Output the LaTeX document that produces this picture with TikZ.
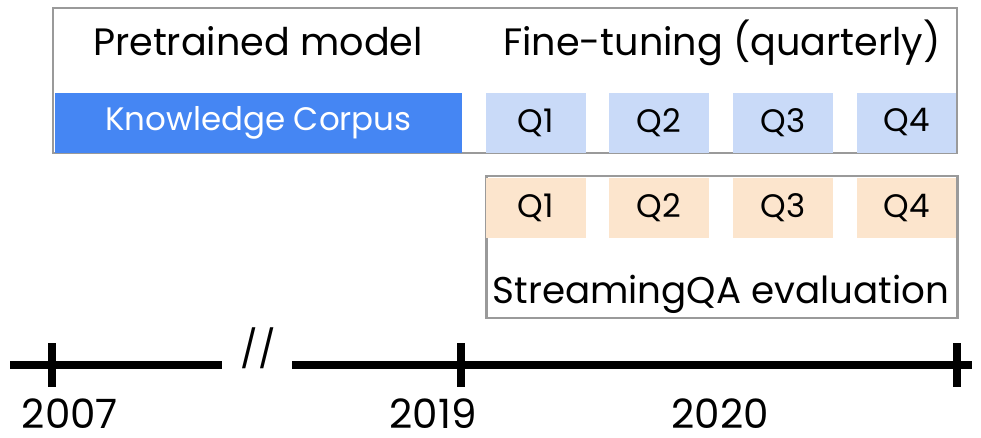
\documentclass[tikz,border=0pt]{standalone}
\usepackage{fontspec}
\setmainfont{Poppins}
\usetikzlibrary{positioning}
\definecolor{corpusblue}{HTML}{4586F3}
\definecolor{tuneblue}{HTML}{C9DAF8}
\definecolor{evalorange}{HTML}{FCE5CD}
\definecolor{framegray}{HTML}{9A9A9A}

\tikzset{
  frame/.style={draw=framegray, line width=1.2pt, inner sep=0pt},
  qbox/.style={minimum width=2cm, minimum height=1.2cm, inner sep=0pt, font=\fontsize{18.5}{22}\selectfont},
  tune/.style={qbox, fill=tuneblue},
  evalq/.style={qbox, fill=evalorange},
  heading/.style={font=\fontsize{21.7}{26}\selectfont, anchor=base},
  year/.style={font=\fontsize{23}{27}\selectfont, anchor=base, inner sep=0pt},
  axis/.style={line width=4pt}
}

\begin{document}
\begin{tikzpicture}[x=0.02cm, y=-0.02cm]
  \useasboundingbox (0,0) rectangle (981,437);
  % frames
  \node[frame, minimum width=18.08cm, minimum height=2.9cm] (topframe) at (505,80.5) {};
  \node[frame, minimum width=9.42cm, minimum height=2.84cm] (evalframe) at (722,247) {};
  % top row
  \node[heading] (pretrain) at (258,55) {Pretrained model};
  \node[heading] (finetune) at (722,55) {Fine-tuning (quarterly)};
  \node[qbox, fill=corpusblue, text=white, minimum width=8.14cm] (corpus) at (258.5,122.5) {Knowledge Corpus};
  \node[tune] (tq1) at (536,122.5) {Q1};
  \node[tune] (tq2) at (659,122.5) {Q2};
  \node[tune] (tq3) at (783,122.5) {Q3};
  \node[tune] (tq4) at (906.5,122.5) {Q4};
  % evaluation
  \node[evalq] (eq1) at (536,208) {Q1};
  \node[evalq] (eq2) at (659,208) {Q2};
  \node[evalq] (eq3) at (783,208) {Q3};
  \node[evalq] (eq4) at (906.5,208) {Q4};
  \node[heading, font=\fontsize{21.2}{26}\selectfont] (streaming) at (721,303) {StreamingQA evaluation};
  % timeline
  \coordinate (a0) at (10,365);
  \coordinate (a1) at (222,365);
  \coordinate (b0) at (292,365);
  \coordinate (b1) at (972,365);
  \draw[axis] (a0) -- (a1);
  \draw[axis] (b0) -- (b1);
  \node[font=\fontsize{21}{24}\selectfont] (gap) at (258,348) {//};
  \foreach \x in {52,461,957} \draw[axis] (\x,343) -- (\x,387);
  \node[year] (y2007) at (70,428) {2007};
  \node[year] (y2019) at (433,428) {2019};
  \node[year] (y2020) at (720,428) {2020};
\end{tikzpicture}
\end{document}
